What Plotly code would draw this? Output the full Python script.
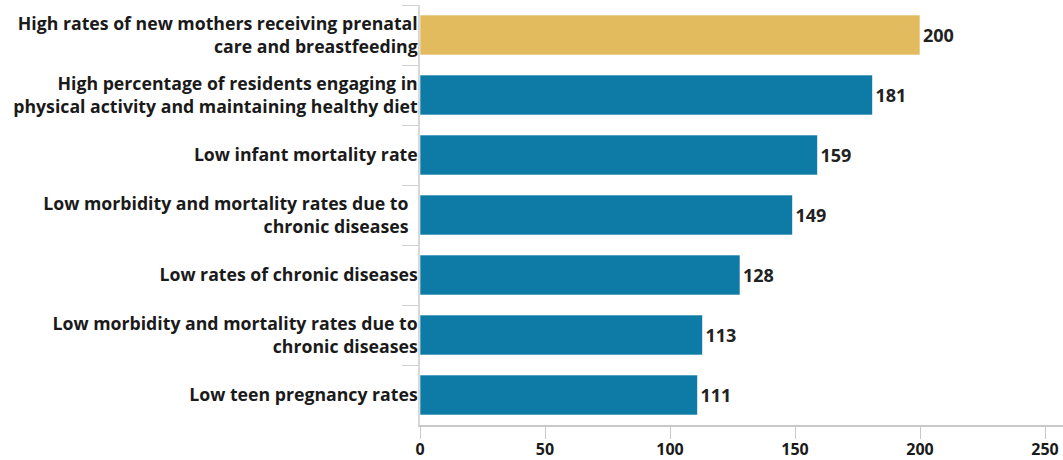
import plotly.graph_objects as go

# Outcome categories (top to bottom) and their counts
categories = [
    "High rates of new mothers receiving prenatal<br>care and breastfeeding",
    "High percentage of residents engaging in<br>physical activity and maintaining healthy diet",
    "Low infant mortality rate",
    "Low morbidity and mortality rates due to&nbsp;&nbsp;<br>chronic diseases&nbsp;&nbsp;",
    "Low rates of chronic diseases",
    "Low morbidity and mortality rates due to<br>chronic diseases",
    "Low teen pregnancy rates",
]
counts = [200, 181, 159, 149, 128, 113, 111]
bar_colors = ["#E2BB5E", "#0E7AA6", "#0E7AA6", "#0E7AA6", "#0E7AA6", "#0E7AA6", "#0E7AA6"]
x_ticks = [0, 50, 100, 150, 200, 250]

FONT = "Open Sans"

fig = go.Figure(
    go.Bar(
        x=counts,
        y=categories,
        orientation="h",
        marker=dict(color=bar_colors, line=dict(color="rgba(255,255,255,0.6)", width=1)),
        text=[str(v) for v in counts],
        textposition="outside",
        cliponaxis=False,
        textfont=dict(family=FONT, size=18, color="#222222", weight="bold"),
        hoverinfo="x+y",
    )
)

fig.update_layout(
    width=1063,
    height=460,
    margin=dict(l=420, r=0, t=5, b=35),
    paper_bgcolor="white",
    plot_bgcolor="white",
    bargap=1 / 3,
    showlegend=False,
    font=dict(family=FONT, color="#1a1a1a"),
)

fig.update_xaxes(
    range=[0, 257.2],
    tickvals=x_ticks,
    showgrid=False,
    zeroline=False,
    showline=True,
    linecolor="#c8c8c8",
    linewidth=1.5,
    ticks="outside",
    ticklen=12,
    tickcolor="#c8c8c8",
    tickwidth=1,
    ticklabelstandoff=-3,
    tickfont=dict(family=FONT, size=16, color="#1a1a1a", weight="bold"),
)

fig.update_yaxes(
    autorange="reversed",
    showgrid=False,
    showline=True,
    linecolor="#d8d8d8",
    linewidth=1.5,
    ticks="outside",
    tickson="boundaries",
    ticklen=16,
    tickcolor="#d0d0d0",
    tickwidth=1,
    ticklabelstandoff=-3,
    tickfont=dict(family=FONT, size=17.7, color="#1a1a1a", weight="bold"),
)

fig.write_html("out.html")
